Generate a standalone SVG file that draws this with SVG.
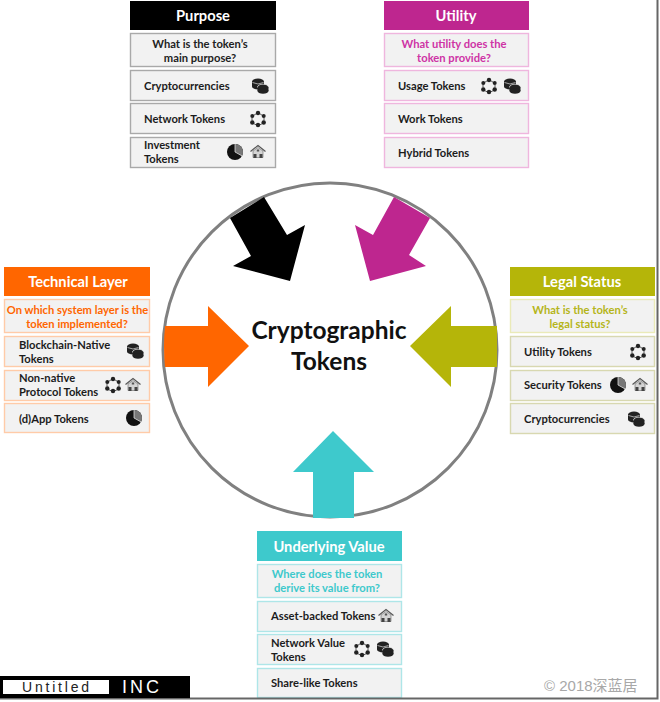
<svg xmlns="http://www.w3.org/2000/svg" width="660" height="702" viewBox="0 0 660 702">
<style>
text{font-family:Lato,"Liberation Sans",sans-serif;font-weight:700}
.hd{font-size:14.700px;fill:#fff;text-anchor:middle}
.q{font-size:11.200px;text-anchor:middle}
.it{font-size:11.200px;fill:#1c1c1c}
.b{fill:#f2f2f2;stroke-width:1.400}
.g{stroke:#a9a9a9}.m{stroke:#efb6de}.o{stroke:#ffcba8}.l{stroke:#d8d8b0}.lq{stroke:#eaeab8}.t{stroke:#aee6e8}
</style>
<defs>
<symbol id="coins" viewBox="-10 -10 20 20" overflow="visible">
<ellipse cx="-2" cy="-4.500" rx="6" ry="3" fill="#222"/><rect x="-8" y="-4.500" width="12" height="5" fill="#222"/><ellipse cx="-2" cy="0.500" rx="6" ry="3" fill="#222"/>
<path d="M-7.500-3.500Q-2-.5 3.500-3.500" fill="none" stroke="#ddd" stroke-width=".7"/>
<ellipse cx="3" cy="1" rx="5.500" ry="2.800" fill="#222" stroke="#f2f2f2" stroke-width=".7"/><rect x="-2.500" y="1" width="11" height="4" fill="#222"/><ellipse cx="3" cy="5" rx="5.500" ry="2.800" fill="#222"/>
</symbol>
<symbol id="network" viewBox="-10 -10 20 20" overflow="visible">
<path d="M-1.500-5.500L-4.500-3.500M1.500-5.500L4.500-3.500M6-1.500V1.500M4.500 4.500L1.500 6M-4.500 4.500L-1.500 6M-6-1.500V1.500" fill="none" stroke="#444" stroke-width=".9"/>
<circle cx="0" cy="-6" r="2.200" fill="#222"/><circle cx="5.700" cy="-3" r="2" fill="#222"/><circle cx="5.700" cy="3.500" r="2.200" fill="#222"/><circle cx="0" cy="6" r="2.200" fill="#222"/><circle cx="-5.700" cy="3.500" r="2.200" fill="#222"/><circle cx="-5.700" cy="-3" r="2" fill="#222"/>
</symbol>
<symbol id="pie" viewBox="-10 -10 20 20" overflow="visible">
<circle r="8" fill="#111"/><path d="M0 0L0-8A8 8 0 0 1 7 3.900Z" fill="#777"/><path d="M0 0L0-8M0 0L7 3.900" stroke="#f2f2f2" stroke-width=".7"/>
</symbol>
<symbol id="house" viewBox="-10 -10 20 20" overflow="visible">
<path d="M-7.500-.5L0-6.500L7.500-.5" fill="none" stroke="#555" stroke-width="1.200"/><path d="M-5-1L0-4.500L5-1V5.500H-5Z" fill="#d4d4d4" stroke="#666" stroke-width=".6"/>
<rect x="-4.500" y="2" width="3" height="4" fill="#444"/><rect x="1.500" y="2" width="3" height="4" fill="#444"/><rect x="-1.200" y="-2.500" width="2.400" height="2" fill="#555"/>
</symbol>
</defs>
<rect width="660" height="702" fill="#fff"/>
<g id="connectors">
<circle cx="330" cy="350" r="167" fill="#fff" stroke="#808080" stroke-width="3"/>
<path d="M230 218L264 197L287 235L305 225L290 281L233 266L251 256Z" fill="#000"/>
<path d="M394 197L430 218L409 255L426 266L370 281L355 225L373 235Z" fill="#BE268F"/>
<path d="M165 326H208V306L249 346L208 387V367H165Q163 346 165 326Z" fill="#FF6600"/>
<path d="M497 326H451V306L410 346L451 387V367H497Z" fill="#B5B509"/>
<path d="M313 518V472H293L333 431L374 472H354V518Z" fill="#3EC9CC"/>
</g>
<g id="center"><text x="329" y="339" font-size="24.500" text-anchor="middle" fill="#111">Cryptographic</text><text x="329" y="370" font-size="24.500" text-anchor="middle" fill="#111">Tokens</text></g>
<g id="purpose">
<rect x="130" y="1" width="146" height="29" fill="#000"/><text class="hd" x="203" y="21">Purpose</text>
<rect class="b g" x="130.500" y="33.500" width="145" height="33"/><text class="q" x="200" y="48" fill="#222">What is the token’s</text><text class="q" x="200" y="62" fill="#222">main purpose?</text>
<rect class="b g" x="130.500" y="70.500" width="145" height="30"/><text class="it" x="144" y="90">Cryptocurrencies</text><use href="#coins" x="250" y="76" width="20" height="20"/>
<rect class="b g" x="130.500" y="103.500" width="145" height="30"/><text class="it" x="144" y="123">Network Tokens</text><use href="#network" x="248" y="109" width="20" height="20"/>
<rect class="b g" x="130.500" y="137.500" width="145" height="30"/><text class="it" x="144" y="149">Investment</text><text class="it" x="144" y="163">Tokens</text><use href="#pie" x="225" y="142" width="20" height="20"/><use href="#house" x="248" y="142" width="20" height="20"/>
</g>
<g id="utility">
<rect x="384" y="1" width="145" height="29" fill="#BE268F"/><text class="hd" x="456" y="21">Utility</text>
<rect class="b m" x="384.500" y="33.500" width="144" height="33"/><text class="q" x="454" y="48" fill="#CE33A5">What utility does the</text><text class="q" x="454" y="62" fill="#CE33A5">token provide?</text>
<rect class="b m" x="384.500" y="70.500" width="144" height="30"/><text class="it" x="398" y="90">Usage Tokens</text><use href="#network" x="479" y="76" width="20" height="20"/><use href="#coins" x="502" y="76" width="20" height="20"/>
<rect class="b m" x="384.500" y="103.500" width="144" height="30"/><text class="it" x="398" y="123">Work Tokens</text>
<rect class="b m" x="384.500" y="137.500" width="144" height="30"/><text class="it" x="398" y="157">Hybrid Tokens</text>
</g>
<g id="technical">
<rect x="4" y="267" width="146" height="29" fill="#FF6600"/><text class="hd" x="78" y="287">Technical Layer</text>
<rect class="b o" x="4.500" y="299.500" width="145" height="33"/><text class="q" x="77.500" y="314" fill="#FF6600">On which system layer is the</text><text class="q" x="77" y="328" fill="#FF6600">token implemented?</text>
<rect class="b o" x="4.500" y="336.500" width="145" height="30"/><text class="it" x="19" y="349">Blockchain-Native</text><text class="it" x="19" y="363">Tokens</text><use href="#coins" x="125" y="341" width="20" height="20"/>
<rect class="b o" x="4.500" y="370.500" width="145" height="30"/><text class="it" x="19" y="382">Non-native</text><text class="it" x="19" y="396">Protocol Tokens</text><use href="#network" x="103" y="375" width="20" height="20"/><use href="#house" x="123" y="375" width="20" height="20"/>
<rect class="b o" x="4.500" y="403.500" width="145" height="29"/><text class="it" x="19" y="423">(d)App Tokens</text><use href="#pie" x="124" y="408" width="20" height="20"/>
</g>
<g id="legal">
<rect x="510" y="267" width="145" height="29" fill="#B5B509"/><text class="hd" x="582" y="287">Legal Status</text>
<rect class="b lq" x="510.500" y="299.500" width="144" height="33"/><text class="q" x="580" y="314" fill="#B5B51A">What is the token’s</text><text class="q" x="580" y="328" fill="#B5B51A">legal status?</text>
<rect class="b l" x="510.500" y="336.500" width="144" height="30"/><text class="it" x="524" y="356">Utility Tokens</text><use href="#network" x="628" y="342" width="20" height="20"/>
<rect class="b l" x="510.500" y="370.500" width="144" height="30"/><text class="it" x="524" y="389">Security Tokens</text><use href="#pie" x="608" y="375" width="20" height="20"/><use href="#house" x="630" y="375" width="20" height="20"/>
<rect class="b l" x="510.500" y="403.500" width="144" height="30"/><text class="it" x="524" y="423">Cryptocurrencies</text><use href="#coins" x="626" y="409" width="20" height="20"/>
</g>
<g id="underlying">
<rect x="257" y="531" width="145" height="30" fill="#3EC9CC"/><text class="hd" x="329" y="552">Underlying Value</text>
<rect class="b t" x="257.500" y="564.500" width="144" height="33"/><text class="q" x="327" y="578" fill="#3EC9CC">Where does the token</text><text class="q" x="327" y="592" fill="#3EC9CC">derive its value from?</text>
<rect class="b t" x="257.500" y="601.500" width="144" height="30"/><text class="it" x="271" y="620">Asset-backed Tokens</text><use href="#house" x="376" y="606" width="20" height="20"/>
<rect class="b t" x="257.500" y="634.500" width="144" height="30"/><text class="it" x="271" y="647">Network Value</text><text class="it" x="271" y="661">Tokens</text><use href="#network" x="352" y="639" width="20" height="20"/><use href="#coins" x="375" y="639" width="20" height="20"/>
<rect class="b t" x="257.500" y="668.500" width="144" height="29"/><text class="it" x="271" y="687">Share-like Tokens</text>
</g>
<g id="footer">
<path d="M657.500 0V698.500H0" fill="none" stroke="#666" stroke-width="2"/>
<rect x="0" y="676" width="190" height="22" fill="#000"/><rect x="3" y="680" width="106" height="14" fill="#fff"/>
<text x="22" y="692" font-size="14" letter-spacing="2.800" fill="#222" style="font-family:'Liberation Sans',sans-serif;font-weight:400">Untitled</text>
<text x="122" y="693" font-size="18" letter-spacing="3" fill="#fff" style="font-family:'Liberation Sans',sans-serif;font-weight:400">INC</text>
<text x="544" y="691" font-size="15" fill="#a8a8a8" style="font-family:'Liberation Sans','Noto Sans CJK SC',sans-serif;font-weight:400">© 2018深蓝居</text>
</g>
</svg>
